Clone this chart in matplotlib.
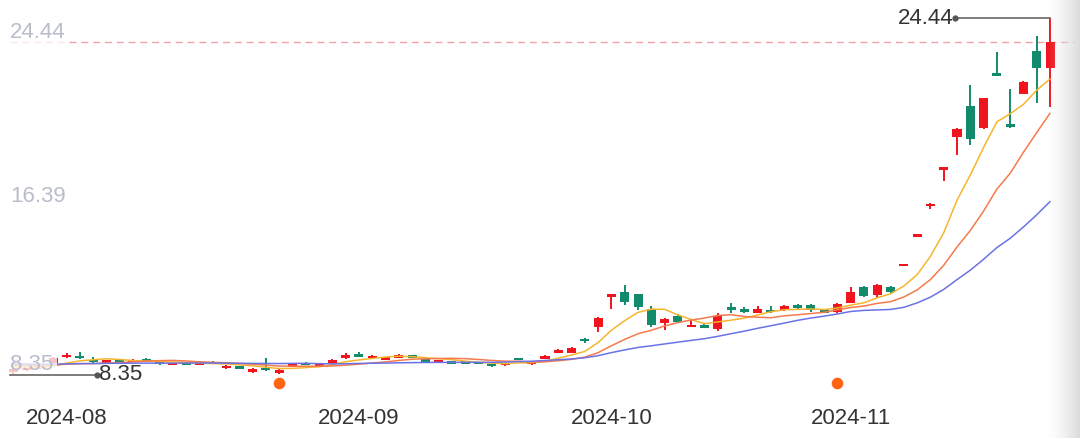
import matplotlib
matplotlib.use("Agg")
import matplotlib.pyplot as plt
import numpy as np
import pandas as pd

# ---------------- data ----------------
opens = [8.49, 8.58, 8.67, 8.89, 9.16, 9.21, 9.03, 8.92, 9.00, 8.96,
         9.01, 8.92, 8.83, 8.89, 8.85, 8.91, 8.67, 8.71, 8.49, 8.67,
         8.44, 8.76, 8.87, 8.78, 8.89, 9.12, 9.27, 9.14, 9.05, 9.16,
         9.21, 9.01, 8.93, 8.93, 8.92, 8.91, 8.82, 8.82, 9.08, 8.85,
         9.07, 9.34, 9.34, 9.97, 10.52, 11.87, 12.09, 12.00, 11.33, 10.70,
         11.01, 10.52, 10.61, 10.43, 11.42, 11.33, 11.15, 11.28, 11.28, 11.51,
         11.51, 11.24, 11.19, 11.60, 12.32, 11.96, 12.32, 13.30, 14.63, 15.97,
         17.62, 19.08, 20.47, 19.48, 21.96, 19.66, 21.02, 22.95, 22.19]
closes = [8.62, 8.67, 8.76, 9.12, 9.25, 9.12, 8.94, 8.98, 8.96, 9.01,
          8.98, 8.85, 8.87, 8.85, 8.89, 8.87, 8.76, 8.67, 8.62, 8.58,
          8.56, 8.82, 8.83, 8.82, 9.03, 9.25, 9.21, 9.18, 9.12, 9.23,
          9.14, 8.98, 8.97, 8.89, 8.89, 8.88, 8.78, 8.86, 9.07, 8.92,
          9.21, 9.48, 9.57, 9.88, 10.92, 12.00, 11.64, 11.42, 10.61, 10.88,
          10.74, 10.61, 10.47, 11.01, 11.28, 11.19, 11.33, 11.19, 11.46, 11.37,
          11.28, 11.20, 11.55, 12.09, 11.91, 12.41, 12.09, 13.30, 14.63, 16.06,
          17.70, 19.44, 18.99, 20.83, 21.83, 19.53, 21.56, 22.19, 23.36]
highs = [8.67, 8.71, 8.80, 9.16, 9.34, 9.39, 9.16, 9.03, 9.05, 9.07,
         9.12, 8.96, 8.91, 8.92, 8.94, 8.98, 8.80, 8.76, 8.65, 9.12,
         8.60, 8.87, 8.92, 8.85, 9.07, 9.34, 9.39, 9.25, 9.16, 9.28,
         9.25, 9.03, 9.01, 8.96, 8.94, 8.94, 8.87, 8.89, 9.10, 8.94,
         9.23, 9.52, 9.60, 10.02, 10.95, 12.00, 12.41, 12.02, 11.46, 10.92,
         11.10, 10.83, 10.65, 11.15, 11.60, 11.42, 11.46, 11.46, 11.51, 11.55,
         11.55, 11.28, 11.60, 12.32, 12.35, 12.44, 12.36, 13.30, 14.63, 16.10,
         17.70, 19.47, 21.42, 20.85, 22.91, 21.24, 21.60, 23.63, 24.44]
lows = [8.35, 8.53, 8.62, 8.85, 9.12, 9.07, 8.89, 8.89, 8.92, 8.92,
        8.94, 8.82, 8.80, 8.80, 8.82, 8.83, 8.64, 8.64, 8.45, 8.55,
        8.40, 8.72, 8.80, 8.75, 8.85, 9.07, 9.18, 9.10, 9.01, 9.12,
        9.10, 8.94, 8.90, 8.87, 8.86, 8.85, 8.73, 8.76, 9.05, 8.80,
        9.05, 9.32, 9.32, 9.79, 10.29, 11.33, 11.51, 11.28, 10.52, 10.38,
        10.70, 10.50, 10.45, 10.34, 11.15, 11.15, 11.13, 11.15, 11.24, 11.33,
        11.19, 11.15, 11.15, 11.58, 11.87, 11.82, 12.05, 13.30, 14.63, 15.83,
        17.09, 18.27, 18.72, 19.45, 21.83, 19.50, 21.00, 20.61, 20.43]
# closes before the visible window (needed for the moving averages)
prior_closes = [8.95, 8.92, 8.98, 9.02, 8.90, 8.85, 8.80, 8.86, 8.92, 8.96,
                8.88, 8.83, 8.79, 8.84, 8.90, 8.87, 8.80, 8.72, 8.66]
ma_windows = [5, 10, 20]
month_labels = ["2024-08", "2024-09", "2024-10", "2024-11"]
month_pos = [4, 26, 45, 63]
y_labels = ["24.44", "16.39", "8.35"]
event_idx = [20, 62]

# ---------------- styling ----------------
RED = "#f0141e"
GREEN = "#128a6c"
MA_COLORS = ["#f6b52e", "#f57a4c", "#6b72e6"]
LABEL_GRAY = "#b9bdca"
TEXT_DARK = "#333333"

plt.rcParams['font.family'] = ['Liberation Sans', 'DejaVu Sans']

W, H = 1080, 438
fig = plt.figure(figsize=(W / 100, H / 100), dpi=100)
fig.patch.set_facecolor("white")

n = len(closes)
x = np.arange(n)
ymax, ymin = max(highs), min(lows)

top_px, bot_px = 18, 375      # pixel rows of max high / min low
ax_top, ax_bot = 0, 398       # axes extent in pixels
ppu = (bot_px - top_px) / (ymax - ymin)
step, x0 = 13.29, 13.4

ax = fig.add_axes([0, (H - ax_bot) / H, 1, (ax_bot - ax_top) / H])
ax.set_ylim(ymin - (ax_bot - bot_px) / ppu, ymax + (top_px - ax_top) / ppu)
ax.set_xlim(-x0 / step, (W - x0) / step)
for s in ax.spines.values():
    s.set_visible(False)
ax.set_yticks([])

# candles
o = np.array(opens); c = np.array(closes)
h = np.array(highs); l = np.array(lows)
cols = [RED if ci >= oi else GREEN for oi, ci in zip(o, c)]
ax.vlines(x, l, h, colors=cols, lw=1.4, zorder=3)
minh = 2.6 / ppu
body_bot = np.minimum(o, c)
body_h = np.abs(c - o)
flat = body_h < minh
body_bot = np.where(flat, (o + c) / 2 - minh / 2, body_bot)
body_h = np.where(flat, minh, body_h)
ax.bar(x, body_h, bottom=body_bot, width=0.68, color=cols, zorder=3, linewidth=0)

# moving averages
allc = pd.Series(prior_closes + closes)
for w, col in zip(ma_windows, MA_COLORS):
    ma = allc.rolling(w).mean().iloc[len(prior_closes):].to_numpy()
    ax.plot(x, ma, color=col, lw=1.1, zorder=4, solid_capstyle="round")

# last price dashed line
ax.axhline(closes[-1], xmin=10 / W, xmax=1075 / W, color="#f3a0a8",
           lw=1.0, ls=(0, (5, 3.5)), zorder=2)

# event dots
ax.scatter(event_idx, [ymin - 8 / ppu] * len(event_idx), s=70,
           color="#ff6314", zorder=5, linewidths=0)

# y labels (max / mid / min)
ytr = ax.get_yaxis_transform()
bb = dict(boxstyle="square,pad=0.15", fc="white", ec="none", alpha=0.75)
ax.annotate(y_labels[0], xy=(10 / W, ymax), xycoords=ytr, xytext=(0, -14),
            textcoords="offset pixels", va="center", ha="left", fontsize=16,
            color=LABEL_GRAY, bbox=bb, zorder=6)
ax.annotate(y_labels[1], xy=(10 / W, (ymax + ymin) / 2), xycoords=ytr,
            xytext=(0, 0), textcoords="offset pixels", va="center", ha="left",
            fontsize=16, color=LABEL_GRAY, bbox=bb, zorder=6)
ax.annotate(y_labels[2], xy=(10 / W, ymin), xycoords=ytr, xytext=(0, 10),
            textcoords="offset pixels", va="center", ha="left", fontsize=16,
            color=LABEL_GRAY, bbox=bb, zorder=6)

# max / min callouts
imax = int(np.argmax(h)); imin = int(np.argmin(l))
xl = imax - 95 / step
ax.plot([xl, imax], [ymax, ymax], color="#666666", lw=1.2, zorder=7)
ax.plot([xl], [ymax], "o", color="#555555", ms=3.5, zorder=7)
ax.text(xl - 0.15, ymax, f"{ymax:.2f}", ha="right", va="center", fontsize=16,
        color=TEXT_DARK, zorder=7)
xr = imin + 84 / step
ax.plot([imin - 0.25, xr], [ymin, ymin], color="#666666", lw=1.2, zorder=7)
ax.plot([xr], [ymin], "o", color="#555555", ms=3.5, zorder=7)
ax.text(xr + 0.15, ymin, f"{ymin:.2f}", ha="left", va="center", fontsize=16,
        color=TEXT_DARK, zorder=7)

# x axis month labels
ax.set_xticks(month_pos, month_labels)
ax.tick_params(axis="x", length=0, pad=7, labelsize=16, labelcolor=TEXT_DARK)

# right-edge shadow
sh = fig.add_axes([1045 / W, 0, 35 / W, 1])
grad = np.linspace(0, 1, 64) ** 1.6
img = np.zeros((2, 64, 4))
img[..., :3] = 0.86
img[..., 3] = grad
sh.imshow(img, aspect="auto", extent=(0, 1, 0, 1))
sh.set_axis_off()

fig.savefig("out.png", dpi=100, facecolor="white")
